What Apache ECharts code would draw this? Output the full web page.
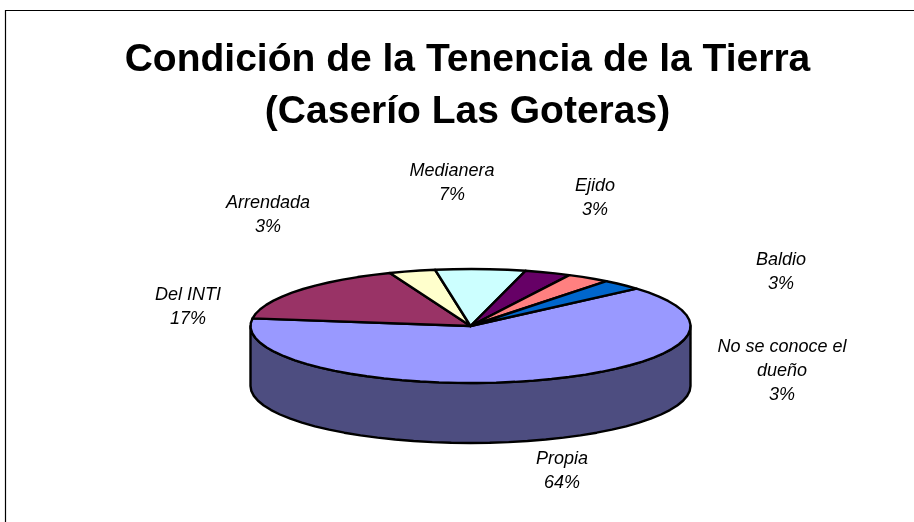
<!DOCTYPE html>
<html><head><meta charset="utf-8">
<style>html,body{margin:0;padding:0;background:#fff}#c{width:914px;height:522px}</style>
<script src="https://cdn.jsdelivr.net/npm/echarts@6/dist/echarts.min.js"></script>
</head><body><div id="c"></div>
<script>
const categories = ['Propia','Del INTI','Arrendada','Medianera','Ejido','Baldio','No se conoce el dueño'];
const values = [63.6,16.9,3.4,6.6,3.4,3.2,3.0];
const colors = ['#9999FF','#993366','#FFFFCC','#CCFFFF','#660066','#FF8080','#0066CC'];
const titleLines = ['Condición de la Tenencia de la Tierra','(Caserío Las Goteras)'];
const labelLines = {'No se conoce el dueño':['No se conoce el','dueño']};
const labelCenters = [[562,471],[188,307],[268,215],[452,183],[595,198],[781,272],[782,371]];

const cx=470.5, cy=326, rx=220, ry=57, depth=60, startDeg=41, wallColor='#4D4D80';
const total = values.reduce((a,b)=>a+b,0);
const starts=[]; let run=startDeg;
values.forEach(v=>{starts.push(run); run-=v/total*360;});
function pt(deg,dy){const r=deg*Math.PI/180;return [cx+rx*Math.cos(r),cy-ry*Math.sin(r)+(dy||0)];}
function arc(a,b,dy){const n=Math.max(1,Math.ceil(Math.abs(b-a)/5));const p=[];for(let i=0;i<=n;i++)p.push(pt(a+(b-a)*i/n,dy));return p;}
const edge={stroke:'#000',lineWidth:2.4,lineJoin:'round'};

function renderItem(params,api){
  const i=params.dataIndex, v=api.value(0), a=starts[i], b=a-v/total*360;
  const children=[];
  if(a>=-180 && b<=0){
    const from=Math.min(a,0), to=Math.max(b,-180);
    children.push({type:'polygon',shape:{points:arc(from,to,0).concat(arc(to,from,depth))},style:Object.assign({fill:wallColor},edge)});
  }
  children.push({type:'polygon',shape:{points:[[cx,cy]].concat(arc(a,b,0))},style:Object.assign({fill:colors[i]},edge)});
  const lines=(labelLines[categories[i]]||[categories[i]]).concat([Math.round(v/total*100)+'%']);
  children.push({type:'text',silent:true,z2:10,style:{text:lines.join('\n'),x:labelCenters[i][0],y:labelCenters[i][1],align:'center',verticalAlign:'middle',fill:'#000',font:'italic 18px "Liberation Sans"',lineHeight:24}});
  return {type:'group',children};
}

const chart=echarts.init(document.getElementById('c'),null,{renderer:'canvas'});
chart.setOption({
  animation:false,
  backgroundColor:'#fff',
  title:{text:titleLines.join('\n'),left:462.5,top:29,textAlign:'center',
    textStyle:{fontFamily:'Liberation Sans',fontWeight:'bold',fontSize:39,lineHeight:52,color:'#000'}},
  graphic:[{type:'polyline',silent:true,shape:{points:[[5.5,522],[5.5,10.5],[914,10.5]]},style:{stroke:'#000',lineWidth:1.2,fill:null}}],
  series:[{type:'custom',coordinateSystem:'none',renderItem,silent:true,data:values.map((v,i)=>({name:categories[i],value:[v]}))}]
});
</script></body></html>
